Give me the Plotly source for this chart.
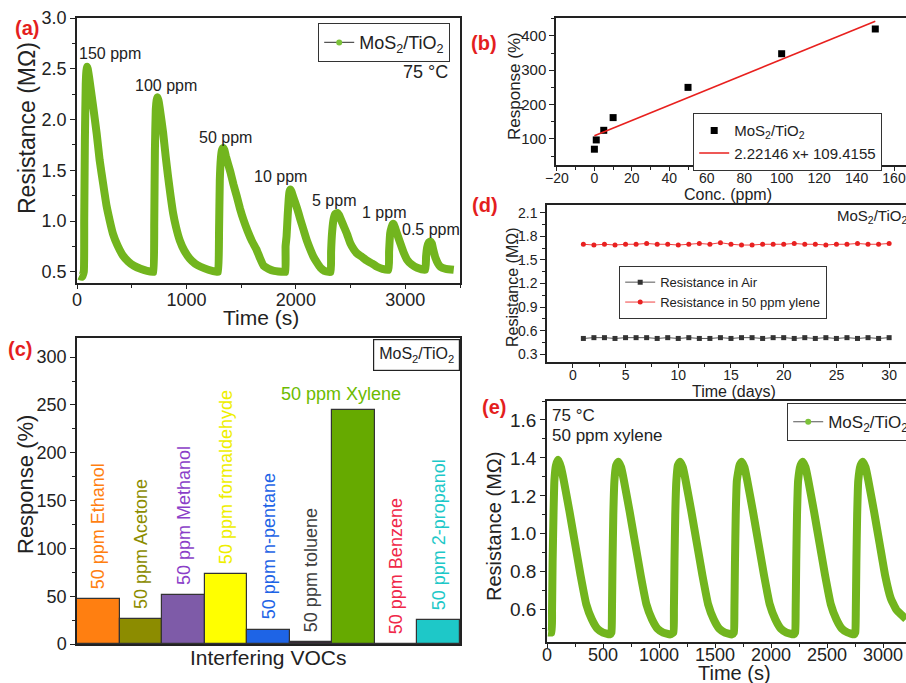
import plotly.graph_objects as go

W, H = 906, 683
FONT = "Arial, Liberation Sans, sans-serif"
GREEN = "#72B51E"

# ---------------- data ----------------
# (a) dynamic response, 150 ... 0.5 ppm
a_time = [20, 45, 62, 66, 72, 80, 86, 91, 98, 110, 146, 180, 207, 240, 270, 300, 330, 370, 420, 470, 520, 580, 640, 695,
          700, 706, 712, 720, 728, 735, 744, 755, 787, 810, 832, 855, 878, 905, 939, 980, 1030, 1080, 1130, 1200, 1280,
          1290, 1298, 1305, 1315, 1325, 1335, 1347, 1360, 1400, 1430, 1461, 1490, 1522, 1560, 1600, 1640, 1670, 1705, 1750, 1800, 1900,
          1905, 1906, 1915, 1925, 1935, 1942, 1949, 1960, 1975, 2010, 2040, 2071, 2100, 2132, 2160, 2193, 2225, 2260, 2300, 2318,
          2322, 2332, 2345, 2360, 2380, 2395, 2410, 2437, 2468, 2498, 2530, 2560, 2600, 2650, 2700, 2742, 2790, 2846,
          2852, 2862, 2875, 2885, 2894, 2905, 2920, 2955, 2985, 3016, 3060, 3108, 3182,
          3190, 3200, 3215, 3230, 3242, 3255, 3275, 3300, 3321, 3370, 3443]
a_res = [0.46, 0.45, 0.50, 1.00, 1.80, 2.35, 2.48, 2.52, 2.50, 2.42, 2.14, 1.86, 1.60, 1.36, 1.15, 1.00, 0.87, 0.76, 0.66, 0.60, 0.56, 0.53, 0.51, 0.50,
         0.50, 1.00, 1.70, 2.10, 2.19, 2.22, 2.19, 2.12, 1.87, 1.64, 1.44, 1.25, 1.08, 0.94, 0.81, 0.71, 0.63, 0.58, 0.55, 0.52, 0.50,
         0.50, 0.90, 1.40, 1.62, 1.70, 1.72, 1.70, 1.64, 1.49, 1.36, 1.24, 1.12, 1.01, 0.90, 0.80, 0.72, 0.64, 0.56, 0.53, 0.51, 0.50,
         0.50, 0.75, 0.85, 1.05, 1.22, 1.29, 1.31, 1.29, 1.24, 1.13, 1.02, 0.91, 0.81, 0.72, 0.65, 0.59, 0.54, 0.51, 0.50, 0.50,
         0.70, 0.90, 1.02, 1.07, 1.08, 1.06, 1.02, 0.95, 0.87, 0.78, 0.72, 0.68, 0.65, 0.61, 0.58, 0.55, 0.53, 0.52,
         0.70, 0.88, 0.94, 0.97, 0.97, 0.94, 0.89, 0.78, 0.69, 0.62, 0.57, 0.54, 0.52,
         0.65, 0.74, 0.79, 0.80, 0.78, 0.72, 0.64, 0.58, 0.55, 0.53, 0.52]
a_labels = ["150 ppm", "100 ppm", "50 ppm", "10 ppm", "5 ppm", "1 ppm", "0.5 ppm"]

# (b) response vs concentration
b_conc = [0, 1, 5, 10, 50, 100, 150]
b_resp = [70, 97, 125, 162, 250, 348, 420]
b_fit_x = [0, 150]
b_fit_y = [109.4, 442.6]
b_fit_label = "2.22146 x+ 109.4155"

# (c) selectivity
c_gases = ["50 ppm Ethanol", "50 ppm Acetone", "50 ppm Methanol", "50 ppm formaldehyde", "50 ppm n-pentane",
           "50 ppm toluene", "50 ppm Xylene", "50 ppm Benzene", "50 ppm 2-propanol"]
c_resp = [47, 26, 51, 73, 15, 2, 245, 0, 25]
c_fill = ["#FF7F11", "#8C8C00", "#7E5BA8", "#FFFF00", "#1E64E6", "#3A2A3A", "#66AA00", "#F0284A", "#1EC8C8"]
c_text = ["#FF7F11", "#8C8C00", "#8B3FC8", "#EEEE00", "#1E64E6", "#404040", "#6CBB00", "#F0284A", "#1EC8C8"]

# (d) long-term stability
d_days = list(range(1, 31))
d_air = [0.50, 0.51, 0.51, 0.50, 0.51, 0.51, 0.51, 0.50, 0.51, 0.50, 0.51, 0.50, 0.50, 0.51, 0.50,
         0.51, 0.51, 0.50, 0.51, 0.51, 0.50, 0.51, 0.50, 0.51, 0.50, 0.51, 0.50, 0.51, 0.50, 0.51]
d_xyl = [1.70, 1.69, 1.70, 1.69, 1.70, 1.70, 1.71, 1.70, 1.70, 1.69, 1.70, 1.71, 1.70, 1.72, 1.70,
         1.69, 1.69, 1.70, 1.70, 1.70, 1.71, 1.70, 1.70, 1.69, 1.70, 1.70, 1.71, 1.70, 1.70, 1.71]

# (e) repeatability, 50 ppm xylene
e_time = [10, 40, 45, 50, 58, 66, 80, 100, 125, 150, 200, 250, 300, 350, 400, 450, 500, 560,
          575, 580, 585, 592, 602, 617, 637, 662, 687, 737, 787, 837, 887, 937, 987, 1037, 1100,
          1128, 1133, 1138, 1145, 1155, 1168, 1188, 1213, 1238, 1288, 1338, 1388, 1438, 1488, 1538, 1588, 1650,
          1668, 1673, 1678, 1685, 1695, 1718, 1738, 1763, 1788, 1838, 1888, 1938, 1988, 2038, 2088, 2138, 2200,
          2215, 2220, 2225, 2232, 2242, 2263, 2283, 2308, 2333, 2383, 2433, 2483, 2533, 2583, 2633, 2683, 2740,
          2752, 2757, 2762, 2769, 2779, 2799, 2819, 2844, 2869, 2919, 2969, 3019, 3069, 3119, 3170, 3205]
e_res = [0.48, 0.48, 0.60, 0.85, 1.10, 1.28, 1.36, 1.39, 1.35, 1.28, 1.12, 0.95, 0.78, 0.63, 0.55, 0.50, 0.48, 0.47,
         0.48, 0.60, 0.85, 1.10, 1.28, 1.36, 1.38, 1.35, 1.28, 1.12, 0.95, 0.78, 0.63, 0.55, 0.50, 0.48, 0.47,
         0.48, 0.60, 0.85, 1.10, 1.28, 1.36, 1.38, 1.35, 1.28, 1.12, 0.95, 0.78, 0.63, 0.55, 0.50, 0.48, 0.47,
         0.48, 0.60, 0.85, 1.10, 1.28, 1.36, 1.38, 1.35, 1.28, 1.12, 0.95, 0.78, 0.63, 0.55, 0.50, 0.48, 0.47,
         0.48, 0.60, 0.85, 1.10, 1.28, 1.36, 1.38, 1.35, 1.28, 1.12, 0.95, 0.78, 0.63, 0.55, 0.50, 0.48, 0.47,
         0.48, 0.60, 0.85, 1.10, 1.28, 1.36, 1.38, 1.35, 1.28, 1.12, 0.95, 0.78, 0.66, 0.60, 0.57, 0.55]

MOS = "MoS<sub>2</sub>/TiO<sub>2</sub>"

# ---------------- helpers ----------------
def px(x):
    return x / W

def py(y):
    return 1 - y / H

def axis(domain, rng, size, dtick=None, tick0=None, minor=None, anchor=None, show=True, fmt=None, standoff=None, ticklen=5):
    d = dict(domain=domain, range=rng, showline=True, linecolor="#222", linewidth=1.5, mirror=True,
             showgrid=False, zeroline=False, ticks="outside" if show else "", ticklen=ticklen, tickwidth=1.2,
             tickcolor="#222", showticklabels=show, tickfont=dict(family=FONT, size=size, color="#222"),
             anchor=anchor, automargin=False)
    if dtick is not None:
        d.update(tickmode="linear", dtick=dtick, tick0=tick0 if tick0 is not None else 0)
    if minor is not None:
        d["minor"] = dict(dtick=minor, ticks="outside", ticklen=3, tickwidth=1, tickcolor="#222")
    if fmt:
        d["tickformat"] = fmt
    if standoff is not None:
        d["ticklabelstandoff"] = standoff
    return d

fig = go.Figure()

# (a)
fig.add_trace(go.Scatter(x=a_time, y=a_res, mode="lines", line=dict(color=GREEN, width=8, shape="spline", smoothing=0.4),
                         showlegend=False, xaxis="x", yaxis="y", hoverinfo="skip"))
fig.add_trace(go.Scatter(x=[None], y=[None], mode="lines+markers", name=MOS,
                         line=dict(color="#555", width=1.2), marker=dict(color="#7CC23A", size=6, symbol="circle"),
                         xaxis="x", yaxis="y", legend="legend"))

# (b)
fig.add_trace(go.Scatter(x=b_conc, y=b_resp, mode="markers", name=MOS,
                         marker=dict(symbol="square", size=7, color="#000"), xaxis="x2", yaxis="y2", legend="legend2"))
fig.add_trace(go.Scatter(x=b_fit_x, y=b_fit_y, mode="lines", name=b_fit_label,
                         line=dict(color="#E8201E", width=1.6), xaxis="x2", yaxis="y2", legend="legend2"))

# (d)
fig.add_trace(go.Scatter(x=d_days, y=d_air, mode="lines+markers", name="Resistance in Air",
                         line=dict(color="#555", width=1), marker=dict(symbol="square", size=5, color="#333"),
                         xaxis="x3", yaxis="y3", legend="legend3"))
fig.add_trace(go.Scatter(x=d_days, y=d_xyl, mode="lines+markers", name="Resistance in 50 ppm ylene",
                         line=dict(color="#F04040", width=1), marker=dict(symbol="circle", size=5, color="#E82020"),
                         xaxis="x3", yaxis="y3", legend="legend3"))

# (c)
fig.add_trace(go.Bar(x=list(range(len(c_gases))), y=c_resp, width=1, marker=dict(color=c_fill, line=dict(color="#333", width=1.2)),
                     showlegend=False, xaxis="x4", yaxis="y4", hovertext=c_gases))

# (e)
fig.add_trace(go.Scatter(x=e_time, y=e_res, mode="lines", line=dict(color=GREEN, width=8, shape="spline", smoothing=0.4),
                         showlegend=False, xaxis="x5", yaxis="y5", hoverinfo="skip"))
fig.add_trace(go.Scatter(x=[None], y=[None], mode="lines+markers", name=MOS,
                         line=dict(color="#555", width=1.2), marker=dict(color="#7CC23A", size=6, symbol="circle"),
                         xaxis="x5", yaxis="y5", legend="legend4"))

ann = []

def text(x, y, s, size, color="#222", xanchor="center", yanchor="middle", angle=0, bold=False, **kw):
    if bold:
        s = "<b>" + s + "</b>"
    d = dict(x=px(x), y=py(y), xref="paper", yref="paper", text=s, showarrow=False, textangle=angle,
             xanchor=xanchor, yanchor=yanchor, font=dict(family=FONT, size=size, color=color))
    d.update(kw)
    ann.append(d)

# panel letters
RED = "#E41E1E"
for s, x, y in [("(a)", 27, 28), ("(b)", 484, 43), ("(c)", 20, 349), ("(d)", 485, 205), ("(e)", 494, 407)]:
    text(x, y, s, 20, RED, bold=True)

# axis titles
text(27, 128, "Resistance (MΩ)", 23, angle=-90)
text(261, 318, "Time (s)", 21)
text(515, 86, "Response (%)", 17, angle=-90)
text(728, 194, "Conc. (ppm)", 16)
text(512, 287, "Resistance (MΩ)", 16, angle=-90)
text(734, 391, "Time (days)", 16)
text(25, 485, "Response (%)", 22, angle=-90)
text(268, 657, "Interfering VOCs", 21)
text(494, 527, "Resistance (MΩ)", 20, angle=-90)
text(734, 673, "Time (s)", 20)

# panel (a) labels
for s, (x, y) in zip(a_labels, [(110, 53), (166, 86), (225, 137), (280, 176), (334, 200), (384, 212), (431, 230)]):
    text(x, y, s, 16)
text(425, 72, "75 °C", 18)

# panel (d) label
text(835, 217, MOS, 15, xanchor="left")

# panel (e) labels
text(550, 415, "75 °C", 17, xanchor="left")
text(550, 435, "50 ppm xylene", 17, xanchor="left")

# panel (c) box + bar labels
text(460, 339, MOS, 16, xanchor="right", yanchor="top", bordercolor="#222", borderwidth=1.2, borderpad=5, bgcolor="white")
for i, (g, v, col) in enumerate(zip(c_gases, c_resp, c_text)):
    if i == 6:
        ann.append(dict(x=i, y=v, xref="x4", yref="y4", text=g, showarrow=False, xanchor="center", yanchor="bottom",
                        xshift=-13, yshift=4, font=dict(family=FONT, size=18, color=col)))
    else:
        ann.append(dict(x=i, y=v, xref="x4", yref="y4", text=g, showarrow=False, textangle=-90, xanchor="center",
                        yanchor="bottom", yshift=8, font=dict(family=FONT, size=18, color=col)))

legend_common = dict(bgcolor="white", bordercolor="#333", borderwidth=1.2, xanchor="left", yanchor="top",
                     tracegroupgap=0, itemwidth=30)

fig.update_layout(
    width=W, height=H, margin=dict(l=0, r=0, t=0, b=0, pad=0, autoexpand=False),
    paper_bgcolor="white", plot_bgcolor="white",
    font=dict(family=FONT, color="#222"),
    xaxis=axis([px(77), px(460)], [0, 3500], 18, 1000, 0, 500, "y", standoff=-4, ticklen=4),
    yaxis=axis([py(283), py(18)], [0.39, 3.0], 18, 0.5, 0.5, 0.25, "x", fmt=".1f"),
    xaxis2=axis([px(556), 1], [-20.5, 166.4], 14, 20, -20, 10, "y2", standoff=-5, ticklen=4),
    yaxis2=axis([py(165), py(18)], [24, 452], 15, 100, 0, 50, "x2"),
    xaxis3=axis([px(547), 1], [-2.45, 31.6], 14, 5, 0, 2.5, "y3", standoff=-5, ticklen=4),
    yaxis3=axis([py(362), py(205)], [0.2, 2.2], 14, 0.3, 0.3, 0.15, "x3", fmt=".1f"),
    xaxis4=axis([px(77), px(460)], [-0.5, 8.5], 18, anchor="y4", show=False),
    yaxis4=axis([py(644), py(338)], [0, 320], 18, 50, 0, 25, "x4"),
    xaxis5=axis([px(547), 1], [0, 3205], 18, 500, 0, 250, "y5", standoff=-8, ticklen=4),
    yaxis5=axis([py(642), py(401)], [0.43, 1.70], 19, 0.2, 0, 0.1, "x5", fmt=".1f"),
    legend=dict(x=px(318), y=py(23), font=dict(family=FONT, size=18, color="#222"), **legend_common),
    legend2=dict(x=px(693), y=py(113), font=dict(family=FONT, size=15, color="#222"), **legend_common),
    legend3=dict(x=px(619), y=py(266), font=dict(family=FONT, size=13, color="#222"), **legend_common),
    legend4=dict(x=px(787), y=py(403), font=dict(family=FONT, size=17, color="#222"), **legend_common),
    annotations=ann,
    bargap=0,
)

fig.write_html("out.html", config={"displayModeBar": False},
               post_script="document.body.style.margin='0';document.body.style.overflow='hidden';")
